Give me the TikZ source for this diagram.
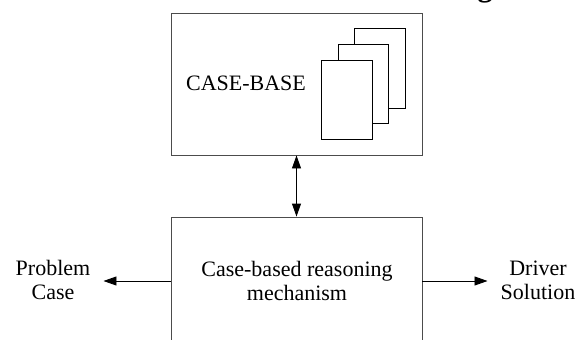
\documentclass[tikz,border=0pt]{standalone}
\usepackage{fontspec}
\setmainfont{Liberation Serif}
\usetikzlibrary{arrows.meta}
\begin{document}
\begin{tikzpicture}[x=1pt,y=-1pt,
  box/.style={draw=black!70,line width=0.9pt,fill=white,inner sep=0pt},
  card/.style={draw=black,line width=0.9pt,fill=white},
  lbl/.style={font=\fontsize{22}{24}\selectfont,align=center,inner sep=0pt},
  conn/.style={line width=0.9pt,draw=black,-{Triangle[length=13pt,width=9pt]}},
  conn2/.style={line width=0.9pt,draw=black,{Triangle[length=13pt,width=9pt]}-{Triangle[length=13pt,width=9pt]}}]
\useasboundingbox (0,0) rectangle (587,340);
\clip (0,0) rectangle (587,340);
% cut-off heading fragment
\node[font=\bfseries\fontsize{30}{32}\selectfont,anchor=base,inner sep=0pt] (head) at (485,-4) {g};
% case base box
\node[box,minimum width=251pt,minimum height=142pt] (cb) at (296.5,84) {};
\node[lbl] (cbl) at (246,83) {CASE-BASE};
\draw[card] (354,28) rectangle (405,108);
\draw[card] (338,44) rectangle (388,123);
\draw[card] (321,60) rectangle (372,139);
% reasoning box
\node[box,minimum width=251pt,minimum height=143pt] (cbr) at (296.5,288.5) {};
\node[lbl] (cbrt) at (297,281) {Case-based reasoning\\mechanism};
\node[lbl] (prob) at (53,280) {Problem\\Case};
\node[lbl] (drv) at (538,280) {Driver\\Solution};
% connectors
\draw[conn2] (cb.south) -- (cbr.north);
\draw[conn,shorten >=13pt] (cbr.west |- cbrt) -- (prob.east |- cbrt);
\draw[conn,shorten >=13pt] (cbr.east |- cbrt) -- (drv.west |- cbrt);
\end{tikzpicture}
\end{document}
